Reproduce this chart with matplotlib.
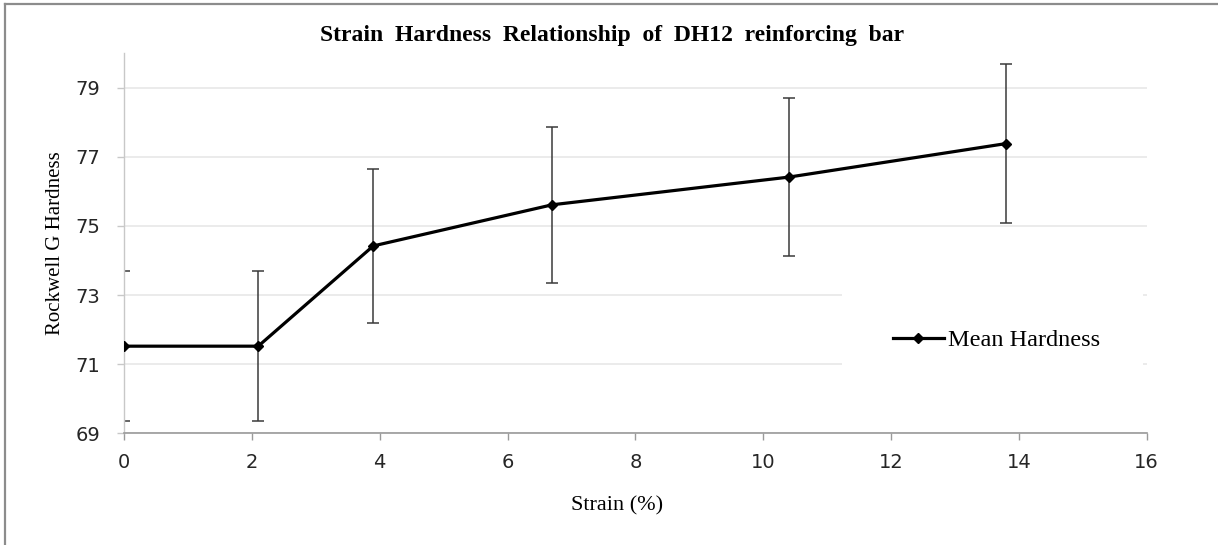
import numpy as np
import matplotlib
matplotlib.use("Agg")
import matplotlib.pyplot as plt
from matplotlib.patches import Rectangle
from matplotlib.lines import Line2D

strain = [0, 2.1, 3.9, 6.7, 10.4, 13.8]
hardness = [71.52, 71.52, 74.42, 75.61, 76.41, 77.38]
hardness_err = [2.16, 2.16, 2.23, 2.26, 2.28, 2.31]
x_ticks = [0, 2, 4, 6, 8, 10, 12, 14, 16]
y_ticks = [69, 71, 73, 75, 77, 79]

serif = "Liberation Serif"

fig = plt.figure(figsize=(12.18, 5.45), dpi=100)
ax = fig.add_axes([124 / 1218, 1 - 433.3 / 545, 1022.7 / 1218, 380.3 / 545])

ax.set_xlim(0, 16)
ax.set_ylim(69, 80)
ax.set_xticks(x_ticks)
ax.set_yticks(y_ticks)
ax.set_axisbelow(True)
ax.grid(axis="y", color="#e8e8e8", lw=1.2)
ax.grid(axis="x", visible=False)

for s in ["top", "right"]:
    ax.spines[s].set_visible(False)
ax.spines["left"].set_color("#c8c8c8")
ax.spines["bottom"].set_color("#9a9a9a")
ax.spines["left"].set_linewidth(1.0)
ax.spines["bottom"].set_linewidth(1.2)

ax.tick_params(axis="x", direction="out", length=5, width=1, color="#9a9a9a",
               labelsize=14, pad=9, labelcolor="#262626")
ax.tick_params(axis="y", direction="out", length=5, width=1, color="#c8c8c8",
               labelsize=14, pad=12, labelcolor="#262626")

# white block behind the legend
ax.add_patch(Rectangle((0.702, 0.166), 0.294, 0.211, transform=ax.transAxes,
                       facecolor="white", edgecolor="none", zorder=1))

ax.errorbar(strain, hardness, yerr=hardness_err, fmt="none", ecolor="#3a3a3a",
            elinewidth=1.1, capsize=4, capthick=1.1, zorder=2)
ax.plot(strain, hardness, color="black", lw=2.3, marker="D", ms=5.5, zorder=3,
        label="Mean Hardness")

ax.legend(loc="center", bbox_to_anchor=(0.853, 0.245), frameon=False,
          prop={"family": serif, "size": 17.5}, handlelength=2.1,
          handletextpad=0.15, borderpad=0)

ax.set_xlabel("Strain (%)", fontfamily=serif, fontsize=16)
ax.set_ylabel("Rockwell G Hardness", fontfamily=serif, fontsize=15)
ax.xaxis.set_label_coords((617 - 124) / 1022.7, -0.165)
ax.yaxis.set_label_coords((65 - 124) / 1022.7, 0.5)

fig.text(612.5 / 1218, 1 - 35 / 545,
         "Strain  Hardness  Relationship  of  DH12  reinforcing  bar",
         ha="center", va="center", fontfamily=serif, fontweight="bold", fontsize=17)

# chart border (left and top visible)
fig.add_artist(Line2D([5 / 1218, 5 / 1218], [0, 1 - 4 / 545], transform=fig.transFigure,
                      color="#8c8c8c", lw=1.6))
fig.add_artist(Line2D([5 / 1218, 1], [1 - 4 / 545, 1 - 4 / 545], transform=fig.transFigure,
                      color="#8c8c8c", lw=1.6))

fig.savefig("out.png", dpi=100)
